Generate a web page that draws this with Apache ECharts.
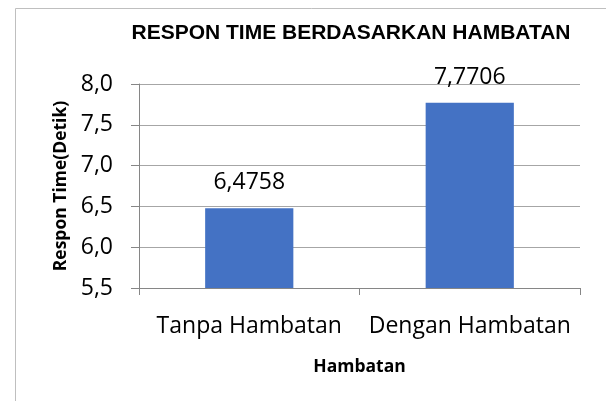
<!DOCTYPE html>
<html>
<head>
<meta charset="utf-8">
<script src="https://cdn.jsdelivr.net/npm/echarts@6/dist/echarts.min.js"></script>
<style>html,body{margin:0;padding:0;background:#fff}#c{width:606px;height:401px}</style>
</head>
<body>
<div id="c"></div>
<script>
var categories = ['Tanpa Hambatan', 'Dengan Hambatan'];
var values = [6.4758, 7.7706];
var titleText = 'RESPON TIME BERDASARKAN HAMBATAN';
var xName = 'Hambatan';
var yName = 'Respon Time(Detik)';

var chart = echarts.init(document.getElementById('c'), null, {renderer: 'canvas'});
chart.setOption({
  animation: false,
  backgroundColor: '#fff',
  graphic: [{
    type: 'rect', left: 13, top: 6, shape: {width: 620, height: 420},
    style: {fill: 'none', stroke: '#bfbfbf', lineWidth: 1}, silent: true
  }],
  title: {
    text: titleText, left: 346, top: 18, textAlign: 'center',
    textStyle: {fontFamily: 'Liberation Sans', fontWeight: 'bold', fontSize: 21, color: '#000'}
  },
  grid: {left: 139, right: 26, top: 84, bottom: 113},
  xAxis: {
    type: 'category', data: categories,
    name: xName, nameLocation: 'middle', nameGap: 70,
    nameTextStyle: {fontFamily: 'Open Sans', fontWeight: 'bold', fontSize: 17.5, color: '#000'},
    axisLine: {lineStyle: {color: '#868686', width: 1}},
    axisTick: {show: true, length: 7, lineStyle: {color: '#868686'}},
    axisLabel: {fontFamily: 'Open Sans', fontSize: 23, color: '#000', margin: 27, interval: 0}
  },
  yAxis: {
    type: 'value', min: 5.5, max: 8, interval: 0.5,
    name: yName, nameLocation: 'middle', nameGap: 69, nameRotate: 90,
    nameTextStyle: {fontFamily: 'Open Sans', fontWeight: 'bold', fontSize: 17.5, color: '#000'},
    axisLine: {show: true, lineStyle: {color: '#868686', width: 1}},
    axisTick: {show: true, length: 8, lineStyle: {color: '#868686'}},
    splitLine: {lineStyle: {color: '#a6a6a6', width: 1}},
    axisLabel: {
      fontFamily: 'Open Sans', fontSize: 23, color: '#000', margin: 26,
      formatter: function (v) { return v.toFixed(1).replace('.', ','); }
    }
  },
  series: [{
    type: 'bar', data: values, barWidth: '40%',
    itemStyle: {color: '#4472C4'},
    label: {
      show: true, position: 'top', distance: 14,
      fontFamily: 'Open Sans', fontSize: 23, color: '#000',
      formatter: function (p) { return p.value.toFixed(4).replace('.', ','); }
    }
  }]
});
</script>
</body>
</html>
